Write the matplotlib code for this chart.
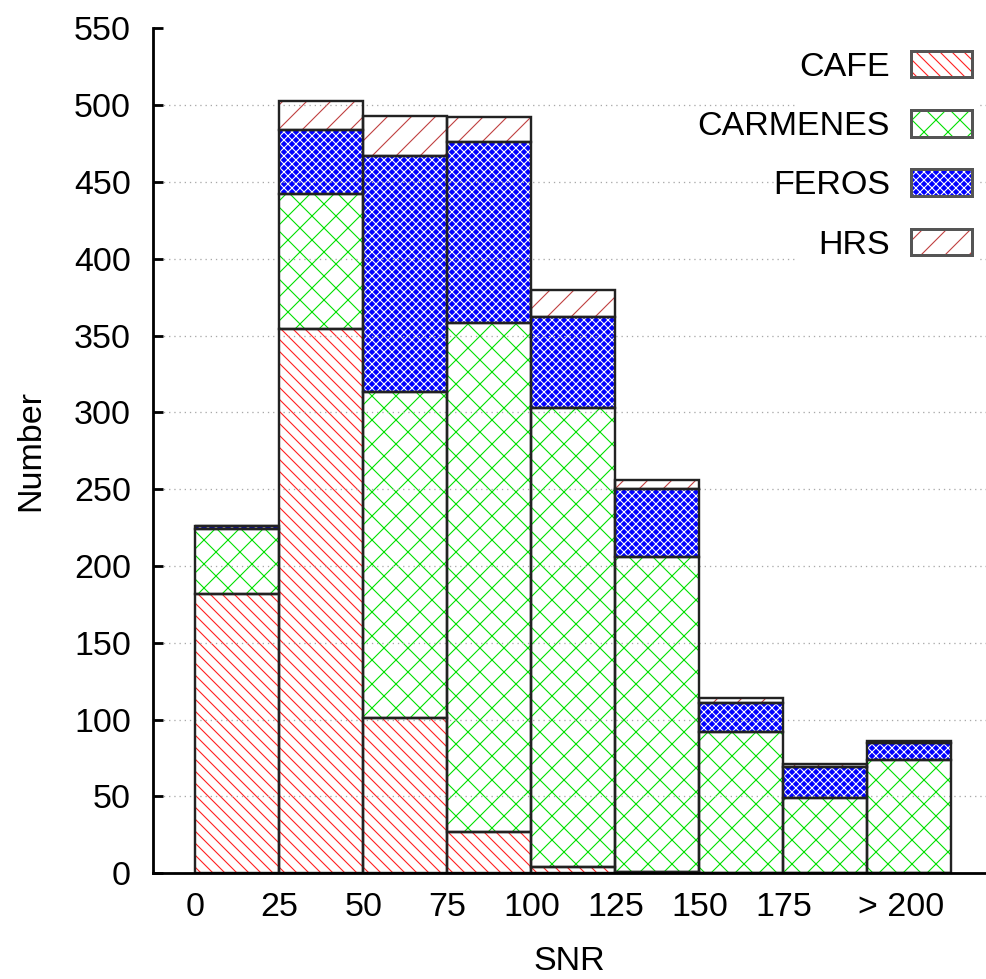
import numpy as np
import matplotlib.pyplot as plt
from matplotlib.patches import Patch, Rectangle

plt.rcParams['font.family'] = ['Liberation Sans', 'DejaVu Sans']
plt.rcParams['hatch.linewidth'] = 1.1

# SNR 구간 (각 막대의 왼쪽 끝)
snr_bins = [0, 25, 50, 75, 100, 125, 150, 175, 200]
tick_pos = [0, 25, 50, 75, 100, 125, 150, 175, 210]
tick_labels = ['0', '25', '50', '75', '100', '125', '150', '175', '> 200']

# 분광기별 개수
cafe = [182, 354, 101, 27, 4, 1, 0, 0, 0]
carmenes = [42, 88, 212, 331, 299, 205, 92, 49, 74]
feros = [2, 42, 154, 118, 59, 44, 19, 20, 11]
hrs = [0, 19, 26, 16, 18, 6, 3, 2, 1]

names = ['CAFE', 'CARMENES', 'FEROS', 'HRS']
series = [cafe, carmenes, feros, hrs]
# (바탕색, 해치, 해치색)
styles = [('white', '\\\\', '#ff2020'),
          ('white', 'x', '#00e000'),
          ('#0000ff', 'xxx', 'white'),
          ('white', '/', '#c04040')]

fs = 34  # dpi=72 -> pt == px

fig = plt.figure(figsize=(986 / 72, 979 / 72), dpi=72)
ax = fig.add_axes([0.155, 0.108, 0.845, 0.863])

bottom = np.zeros(len(snr_bins))
for vals, (face, hatch, hc) in zip(series, styles):
    # 해치 채우기
    ax.bar(snr_bins, vals, width=25, align='edge', bottom=bottom, color=face,
           hatch=hatch, edgecolor=hc, linewidth=0, zorder=2)
    # 테두리
    ax.bar(snr_bins, vals, width=25, align='edge', bottom=bottom, fill=False,
           edgecolor='#222222', linewidth=2.4, zorder=3)
    bottom = bottom + np.array(vals)

ax.set_xlim(-12.65, 235.3)
ax.set_ylim(0, 550)
ax.set_yticks(range(0, 551, 50))
ax.set_xticks(tick_pos, tick_labels)

ax.set_axisbelow(False)
ax.yaxis.grid(True, linestyle=(0, (1, 3)), color='#a8a8a8', linewidth=1.3)
ax.yaxis.get_gridlines()[-1].set_visible(False)  # 550 선 없음

for s in ['top', 'right']:
    ax.spines[s].set_visible(False)
for s in ['left', 'bottom']:
    ax.spines[s].set_linewidth(2.8)
    ax.spines[s].set_zorder(5)

ax.tick_params(axis='y', direction='in', length=10, width=2.8, pad=22, labelsize=fs)
ax.tick_params(axis='x', length=0, pad=19, labelsize=fs)

ax.set_xlabel('SNR', fontsize=fs, labelpad=23)
ax.set_ylabel('Number', fontsize=fs, labelpad=28)

# 범례 (뒤쪽 흰 바탕으로 grid 가림)
ax.add_patch(Rectangle((0.773, 0.716), 0.216, 0.264, transform=ax.transAxes,
                       facecolor='white', edgecolor='none', zorder=2.6))
handles = []
for face, hatch, hc in styles:
    handles.append((Patch(facecolor=face, hatch=hatch, edgecolor=hc, linewidth=0),
                    Patch(fill=False, edgecolor='#555555', linewidth=3)))
ax.legend(handles, names, loc='upper right', bbox_to_anchor=(0.986, 0.948),
          bbox_transform=fig.transFigure, frameon=False, markerfirst=False,
          handlelength=1.8, handleheight=0.82, handletextpad=0.62,
          labelspacing=0.8, fontsize=fs, borderaxespad=0, borderpad=0)

plt.savefig('out.png', dpi=72)
